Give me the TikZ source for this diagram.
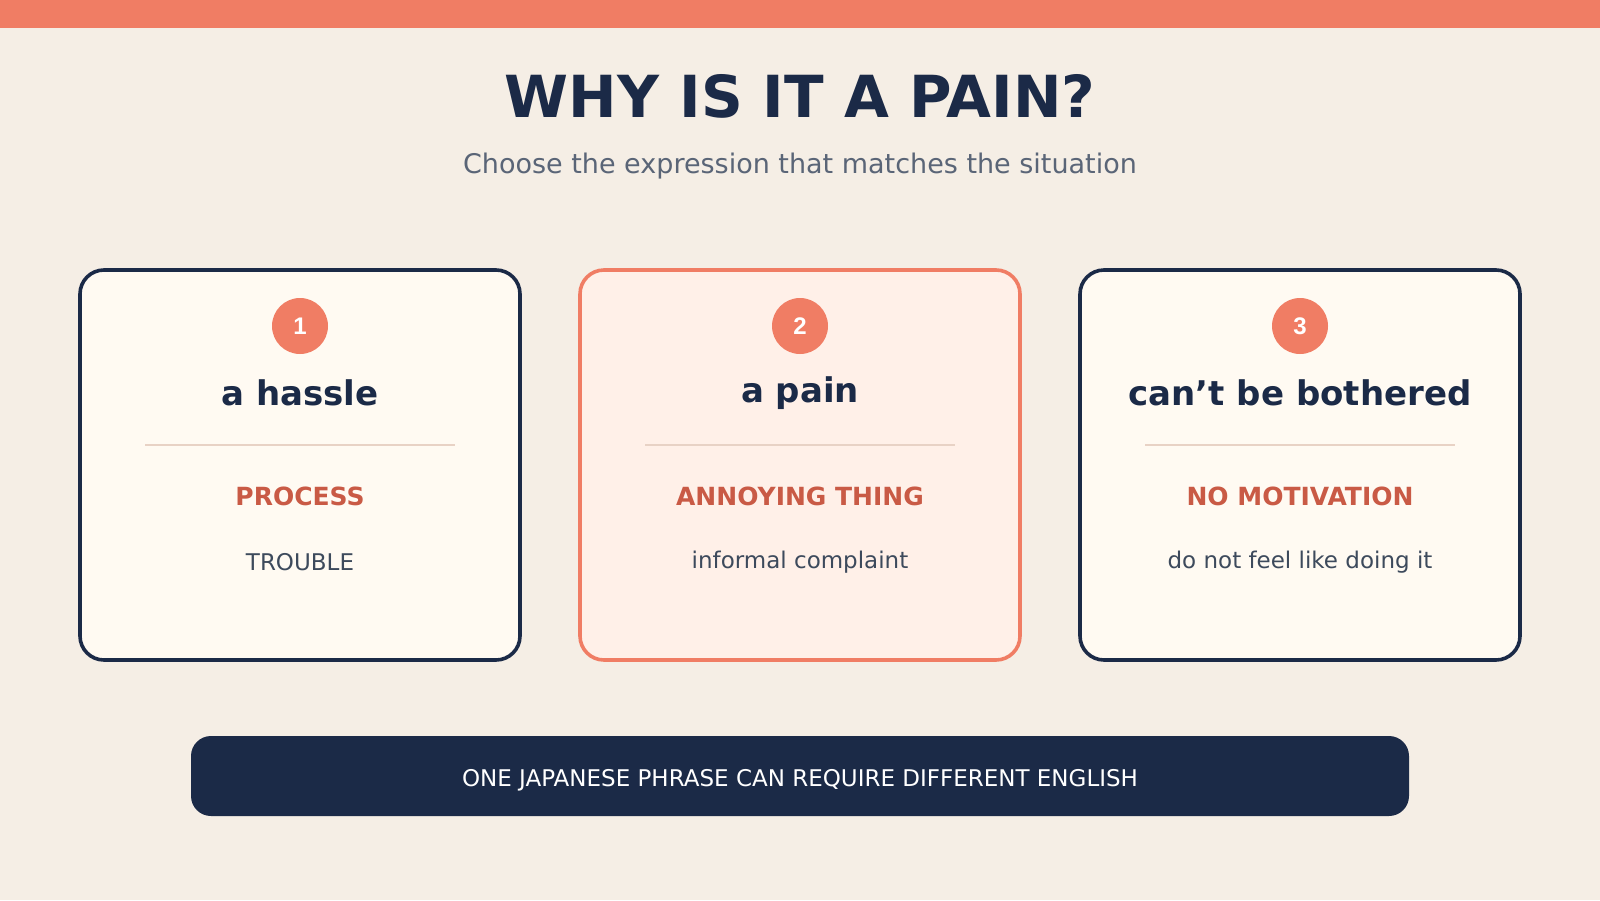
\documentclass[tikz,border=0pt]{standalone}
\usepackage{fontspec}
\setmainfont{DejaVu Sans}
\newfontfamily\numfont{Liberation Sans}
\definecolor{bg}{HTML}{F5EEE5}
\definecolor{accent}{HTML}{F07D64}
\definecolor{navy}{HTML}{1B2A47}
\definecolor{cardA}{HTML}{FFFAF2}
\definecolor{cardB}{HTML}{FFF0E8}
\definecolor{cat}{HTML}{C95A45}
\definecolor{desc}{HTML}{3D4A5C}
\definecolor{sub}{HTML}{5A6577}
\definecolor{rule}{HTML}{E8D2C5}
\begin{document}
\begin{tikzpicture}[x=0.5pt,y=-0.5pt,
 card/.style={draw=navy,line width=1.8pt,fill=cardA,rounded corners=12pt},
 num/.style={circle,fill=accent,minimum size=28pt,inner sep=0pt,text=white,font=\numfont\bfseries\fontsize{12}{14}\selectfont},
 head/.style={text=navy,font=\bfseries\fontsize{17}{20}\selectfont},
 catg/.style={text=cat,font=\bfseries\fontsize{12.5}{15}\selectfont},
 dsc/.style={text=desc,font=\fontsize{11.5}{14}\selectfont}]
\fill[bg] (0,0) rectangle (1600,900);
\useasboundingbox (0,0) rectangle (1600,900);
\fill[accent] (0,0) rectangle (1600,27.5);
\node[text=navy,font=\bfseries\fontsize{29}{34}\selectfont] (title) at (800,96) {WHY IS IT A PAIN?};
\node[text=sub,font=\fontsize{13.5}{16}\selectfont] (subt) at (800,166) {Choose the expression that matches the situation};
\foreach \i/\cx/\h/\c/\d in {1/300/a hassle/PROCESS / TROUBLE/takes time and effort,2/800/a pain/ANNOYING THING/informal complaint,3/1300/can't be bothered/NO MOTIVATION/do not feel like doing it}{
  \ifnum\i=2
   \draw[card,draw=accent,fill=cardB] (\cx-220,270) rectangle (\cx+220,660);
  \else
   \draw[card] (\cx-220,270) rectangle (\cx+220,660);
  \fi
  \node[num] (n\i) at (\cx,326) {\i};
  \node[head] (h\i) at (\cx,393) {\h};
  \draw[rule,line width=1.3pt] (\cx-155,445) -- (\cx+155,445);
  \node[catg] (c\i) at (\cx,496) {\c};
  \node[dsc] (d\i) at (\cx,562) {\d};
}
\fill[navy,rounded corners=10pt] (191,736) rectangle (1409,816);
\node[text=white,font=\fontsize{11.5}{14}\selectfont] (bottom) at (800,780) {ONE JAPANESE PHRASE CAN REQUIRE DIFFERENT ENGLISH};
\end{tikzpicture}
\end{document}
